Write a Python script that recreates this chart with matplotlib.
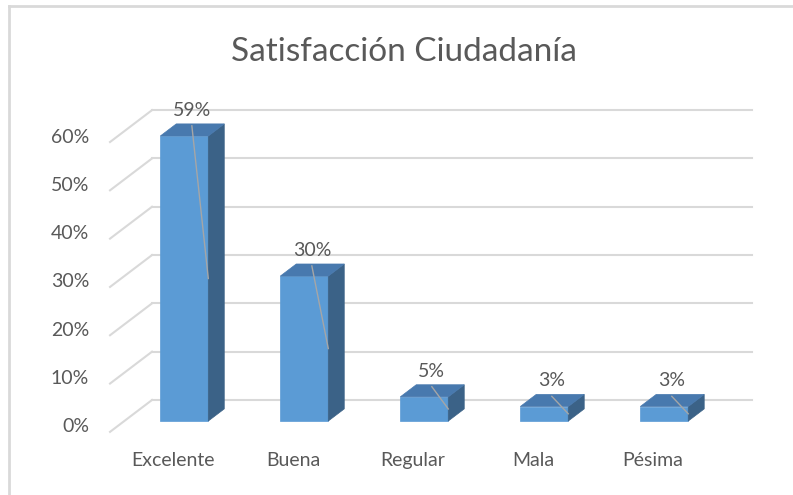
import matplotlib.pyplot as plt
from matplotlib.patches import Polygon
from matplotlib.lines import Line2D

categories = ["Excelente", "Buena", "Regular", "Mala", "Pésima"]
values = [59, 30, 5, 3, 3]
ticks = [0, 10, 20, 30, 40, 50, 60]
title = "Satisfacción Ciudadanía"

plt.rcParams["font.family"] = ["Lato", "DejaVu Sans"]

TEXT = "#595959"
GRID = "#D9D9D9"
FRONT, TOP, SIDE = "#5B9BD5", "#4879AE", "#3B6287"
FS = 14

# oblique depth vector (d=1 is the floor front edge, d=0 the back wall)
DX, DY = -0.35, -6.6
HALF_W = 0.2
D_BACK, D_FRONT = 0.28, 0.66


def proj(x, v, d):
    return (x + d * DX, v + d * DY)


fig = plt.figure(figsize=(7.93, 4.95), dpi=100)
ax = fig.add_axes([0, 0, 1, 1])
ax.set_xlim(-1.767, 4.842)
ax.set_ylim(-19.67, 82.8)
ax.axis("off")

n = len(categories)
left, right = -0.5, n - 0.5

# back wall gridlines and left side diagonals
for t in ticks:
    x0, y0 = proj(left, t, 0)
    x1, y1 = proj(right, t, 0)
    ax.plot([x0, x1], [y0, y1], color=GRID, lw=1.5, zorder=1)
    xf, yf = proj(left, t, 1)
    ax.plot([x0, xf], [y0, yf], color=GRID, lw=1.5, zorder=1)
    ax.annotate(f"{t}%", xy=(xf, yf), xytext=(-21, 5), textcoords="offset pixels",
                ha="right", va="center", fontsize=FS, color=TEXT)

# bars
for i, (cat, v) in enumerate(zip(categories, values)):
    xl, xr = i - HALF_W, i + HALF_W
    front = [proj(xl, 0, D_FRONT), proj(xr, 0, D_FRONT), proj(xr, v, D_FRONT), proj(xl, v, D_FRONT)]
    side = [proj(xr, 0, D_FRONT), proj(xr, 0, D_BACK), proj(xr, v, D_BACK), proj(xr, v, D_FRONT)]
    top = [proj(xl, v, D_FRONT), proj(xr, v, D_FRONT), proj(xr, v, D_BACK), proj(xl, v, D_BACK)]
    ax.add_patch(Polygon(front, closed=True, facecolor=FRONT, edgecolor=FRONT, lw=0.5, zorder=3))
    ax.add_patch(Polygon(side, closed=True, facecolor=SIDE, edgecolor=SIDE, lw=0.5, zorder=3))
    ax.add_patch(Polygon(top, closed=True, facecolor=TOP, edgecolor=TOP, lw=0.5, zorder=3))

    # data label with leader line into the bar
    bx, by = proj(i, v, D_BACK)
    lx, ly = bx - 0.07, by + 2.8
    ex, ey = proj(xr, v / 2, D_FRONT)
    ax.plot([lx, ex], [ly - 3.2, ey], color="#A6A6A6", lw=1, zorder=4)
    ax.text(lx, ly, f"{v}%", ha="center", va="center", fontsize=FS, color=TEXT, zorder=5)

    # category label
    cx, cy = proj(i, 0, 1)
    ax.annotate(cat, xy=(cx, cy), xytext=(3, -29), textcoords="offset pixels",
                ha="center", va="center", fontsize=FS, color=TEXT)

fig.text(0.51, 0.895, title, ha="center", va="center", fontsize=24, color=TEXT)

# chart area border (top and left edges visible)
fig.add_artist(Line2D([9 / 793, 1], [1 - 6 / 495, 1 - 6 / 495], color=GRID, lw=2, transform=fig.transFigure))
fig.add_artist(Line2D([9 / 793, 9 / 793], [0, 1 - 6 / 495], color=GRID, lw=2, transform=fig.transFigure))

fig.savefig("out.png", dpi=100)
